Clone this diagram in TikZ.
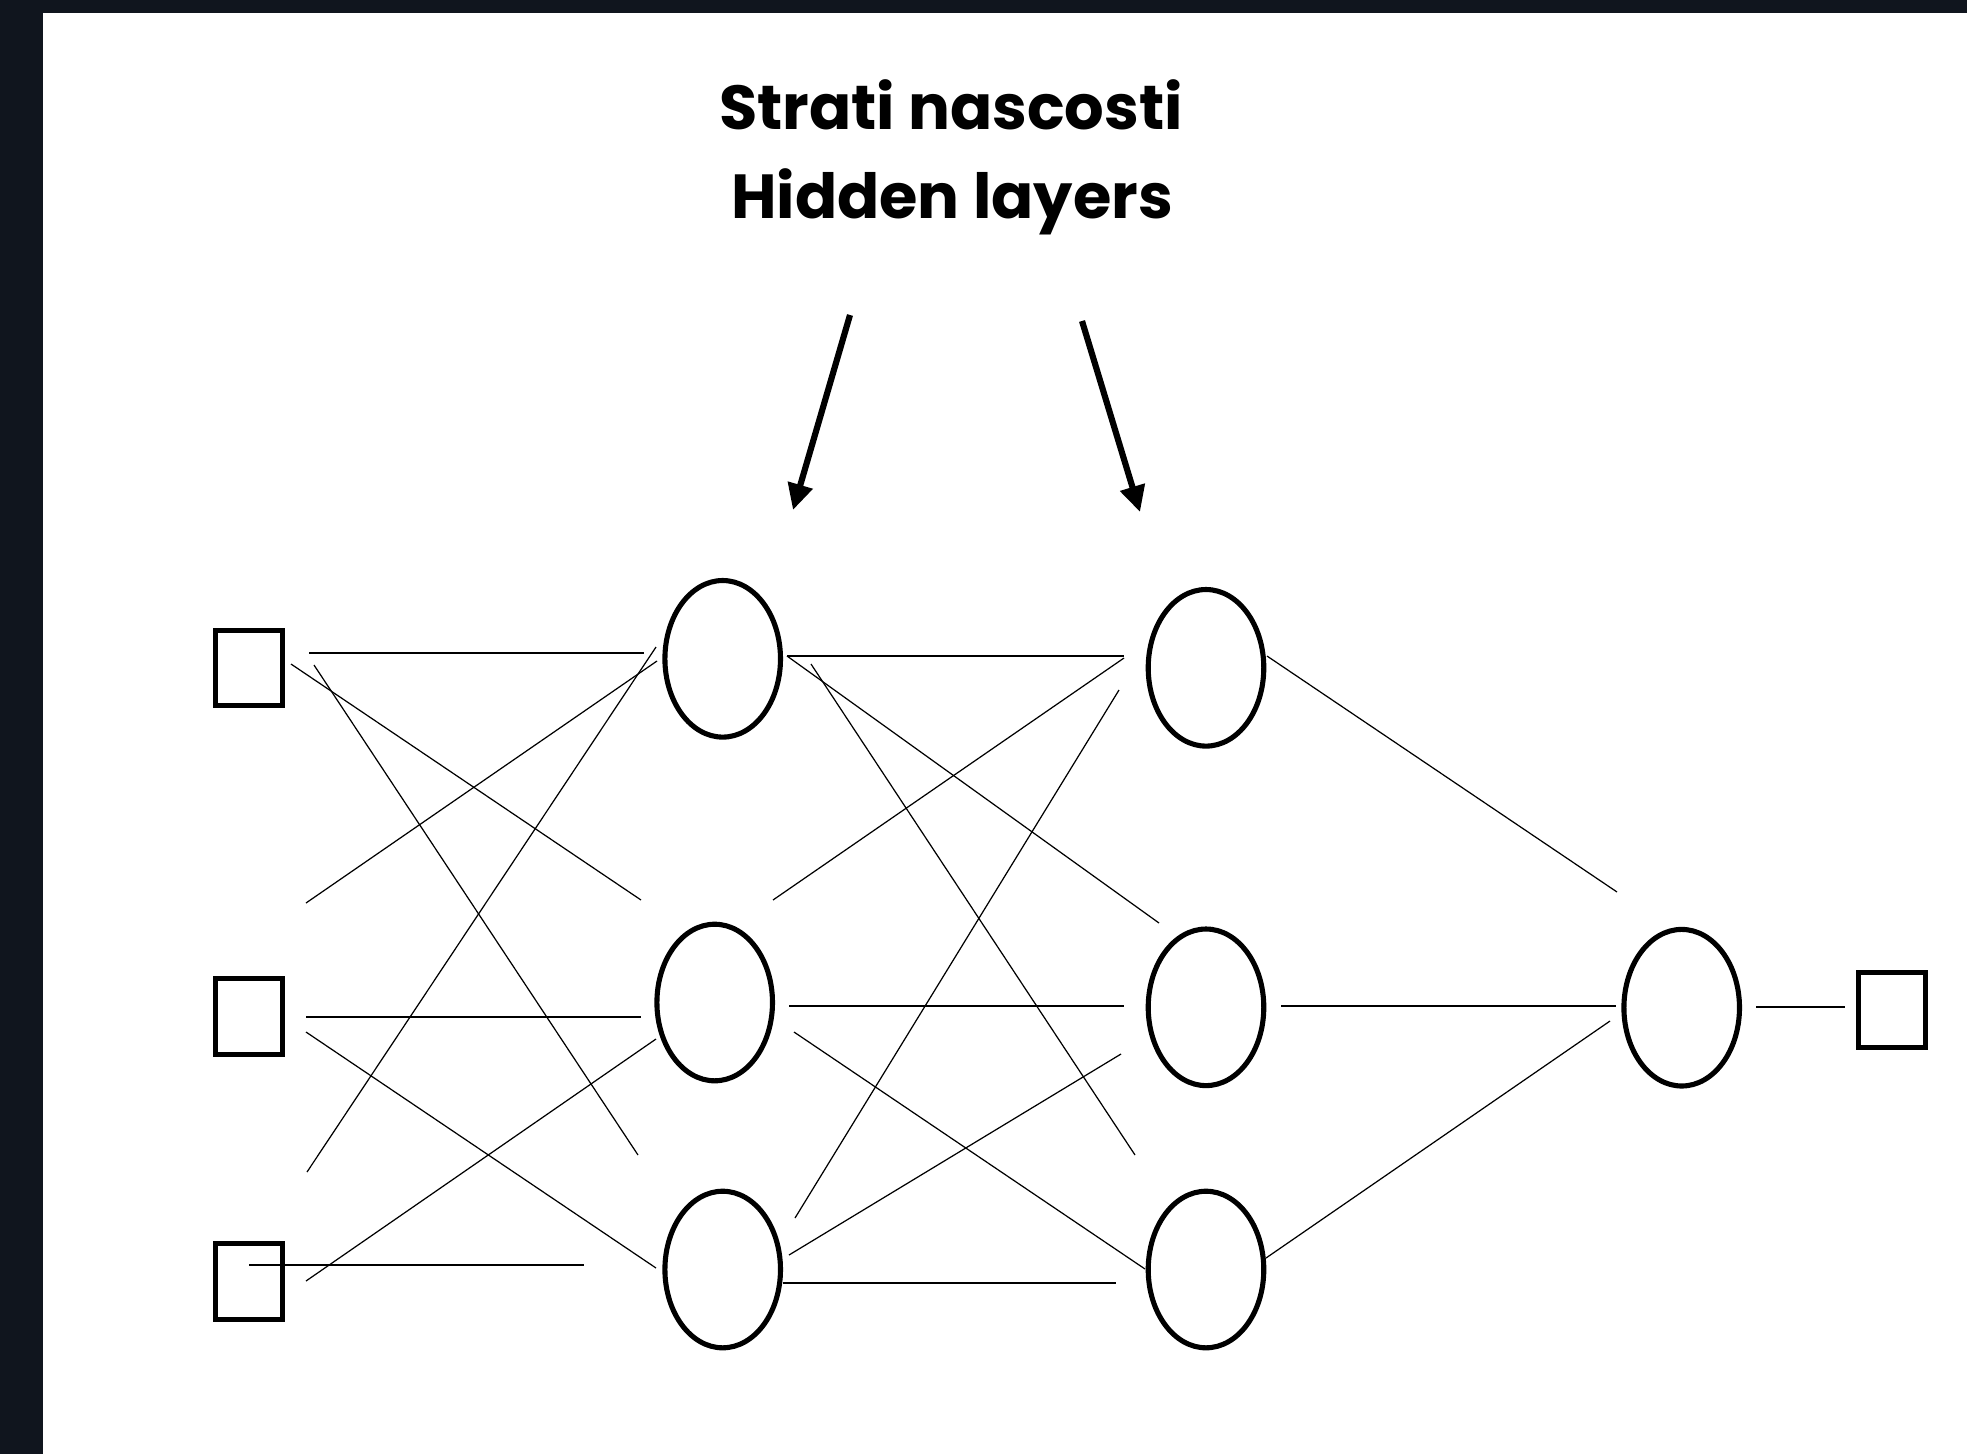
\documentclass[tikz,border=0pt]{standalone}
\usepackage{fontspec}
\setmainfont{Poppins}
\usetikzlibrary{arrows.meta,shapes.geometric}
\definecolor{framedark}{RGB}{16,21,30}
\begin{document}
\begin{tikzpicture}[x=0.01cm,y=-0.01cm,
  unit/.style={draw,line width=1.45pt,inner sep=0pt,outer sep=0pt},
  squarebox/.style={unit,rectangle,minimum width=0.67cm,minimum height=0.755cm},
  neuron/.style={unit,ellipse,minimum width=1.155cm,minimum height=1.565cm},
  link/.style={line width=0.35pt},
  pointer/.style={line width=1.75pt,-{Triangle[length=7.4pt,width=7pt]}},
  caption/.style={font=\fontsize{17.7}{21}\selectfont\bfseries,anchor=base,inner sep=0pt}]

% page and dark frame
\fill[framedark] (0,0) rectangle (1967,1454);
\fill[white] (43,13) rectangle (1967,1454);
\useasboundingbox (0,0) rectangle (1967,1454);

% title
\node[caption] (title1) at (951,129) {Strati nascosti};
\node[caption] (title2) at (952,218) {Hidden layers};

% pointers to the hidden layers
\coordinate (a1s) at (850,315);  \coordinate (a1e) at (793,510);
\coordinate (a2s) at (1082,321); \coordinate (a2e) at (1140,512);
\draw[pointer] (a1s) -- (a1e);
\draw[pointer] (a2s) -- (a2e);

% input units
\node[squarebox] (in1) at (249,668) {};
\node[squarebox] (in2) at (249,1016.5) {};
\node[squarebox] (in3) at (249,1281.5) {};

% first hidden layer
\node[neuron] (h11) at (722.7,658.8) {};
\node[neuron] (h12) at (714.7,1002.5) {};
\node[neuron] (h13) at (722.7,1269.5) {};

% second hidden layer
\node[neuron] (h21) at (1206,667.8) {};
\node[neuron] (h22) at (1206,1007.3) {};
\node[neuron] (h23) at (1206,1269.5) {};

% output neuron and output unit
\node[neuron] (out) at (1681.7,1007.7) {};
\node[squarebox] (res) at (1892,1010) {};

% end points of the weight lines
\foreach \n/\x/\y in {
  l1s/309/653,  l1e/644/653,
  l2s/291/664,  l2e/641/900,
  l3s/314/665,  l3e/638/1155,
  l4s/306/903,  l4e/657/661,
  l5s/656/647,  l5e/307/1172,
  l6s/306/1017, l6e/641/1017,
  l7s/306/1032, l7e/656/1268,
  l8s/306/1281, l8e/656/1039,
  l9s/249/1265, l9e/584/1265,
  m1s/787/656,  m1e/1124/656,
  m2s/787/656,  m2e/1159/923,
  m3s/811/664,  m3e/1135/1155,
  m4s/773/900,  m4e/1124/658,
  m5s/1119/690, m5e/795/1218,
  m6s/789/1006, m6e/1124/1006,
  m7s/794/1032, m7e/1145/1269,
  m8s/789/1255, m8e/1121/1054,
  m9s/783/1283, m9e/1116/1283,
  n1s/1267/656, n1e/1617/892,
  n2s/1281/1006,n2e/1616/1006,
  n3s/1266/1258,n3e/1610/1021,
  o1s/1756/1007,o1e/1845/1007}
  \coordinate (\n) at (\x,\y);

% weight lines
\foreach \p in {l1,l2,l3,l4,l5,l6,l7,l8,l9,m1,m2,m3,m4,m5,m6,m7,m8,m9,n1,n2,n3,o1}
  \draw[link] (\p s) -- (\p e);

\end{tikzpicture}
\end{document}
